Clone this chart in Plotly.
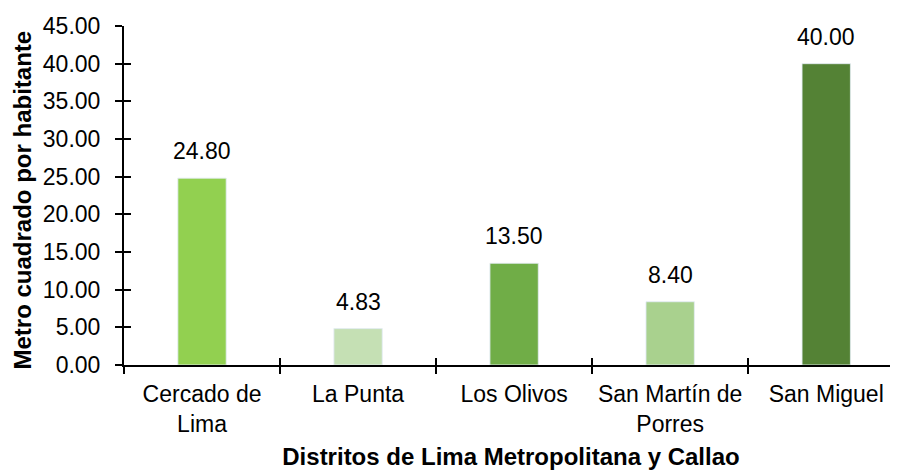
import plotly.graph_objects as go

# data
categories = ["Cercado de<br>Lima", "La Punta", "Los Olivos",
              "San Martín de<br>Porres", "San Miguel"]
values = [24.80, 4.83, 13.50, 8.40, 40.00]
bar_colors = ["#92D050", "#C5E0B4", "#70AD47", "#A9D18E", "#548235"]
y_ticks = [0, 5, 10, 15, 20, 25, 30, 35, 40, 45]

font_family = "Liberation Sans, Arial, sans-serif"

fig = go.Figure()
fig.add_trace(go.Bar(
    x=categories,
    y=values,
    marker_color=bar_colors,
    width=0.31,
    showlegend=False,
))
# invisible copy so the overlay axes get the same categories (for cross ticks)
fig.add_trace(go.Bar(
    x=categories,
    y=values,
    width=0.31,
    marker_color="rgba(0,0,0,0)",
    xaxis="x2",
    yaxis="y2",
    hoverinfo="skip",
    showlegend=False,
))

# value labels above the bars
for cat, val in zip(categories, values):
    fig.add_annotation(x=cat, y=val, text=f"{val:.2f}", showarrow=False,
                       yanchor="bottom", yshift=12,
                       font=dict(size=23, color="black"))

# y axis title as an annotation, sits a little below the plot centre
fig.add_annotation(text="<b>Metro cuadrado por habitante</b>",
                   xref="paper", yref="paper", x=0, y=0.5,
                   xanchor="center", yanchor="middle",
                   xshift=-102, yshift=-5, textangle=-90,
                   showarrow=False, font=dict(size=24, color="black"))

# page body has an 8px margin, so the figure is 8px smaller than the window
fig.update_layout(
    width=890,
    height=462,
    plot_bgcolor="white",
    paper_bgcolor="white",
    font=dict(family=font_family, size=23, color="black"),
    margin=dict(l=116, r=0, t=18, b=105),
    xaxis=dict(
        type="category",
        range=[-0.5, 4.46],
        showline=True, linecolor="black", linewidth=2,
        ticks="outside", ticklen=7, tickwidth=2, tickcolor="black",
        tickson="boundaries", ticklabelstandoff=7,
        showgrid=False,
        title=dict(text="<b>Distritos de Lima Metropolitana y Callao</b>",
                   font=dict(size=24), standoff=13),
    ),
    yaxis=dict(
        range=[0, 45],
        tickvals=y_ticks,
        tickformat=".2f",
        showline=True, linecolor="black", linewidth=2,
        ticks="outside", ticklen=7, tickwidth=2, tickcolor="black",
        ticklabelstandoff=10,
        showgrid=False, zeroline=False,
    ),
    xaxis2=dict(
        overlaying="x", matches="x", type="category",
        ticks="inside", ticklen=7, tickwidth=2, tickcolor="black",
        tickson="boundaries", showticklabels=False, showgrid=False,
        showline=False,
    ),
    yaxis2=dict(
        overlaying="y", matches="y",
        tickvals=y_ticks,
        ticks="inside", ticklen=7, tickwidth=2, tickcolor="black",
        showticklabels=False, showgrid=False, zeroline=False,
        showline=False,
    ),
)

fig.write_html("out.html")
